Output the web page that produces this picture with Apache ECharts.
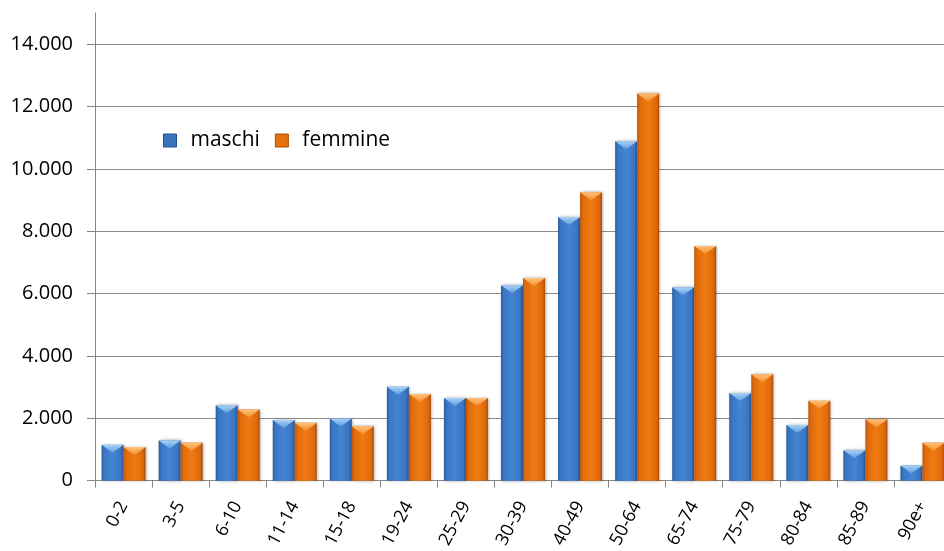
<!DOCTYPE html>
<html>
<head>
<meta charset="utf-8">
<script src="https://cdn.jsdelivr.net/npm/echarts@6/dist/echarts.min.js"></script>
<style>
  html, body { margin: 0; padding: 0; background: #ffffff; overflow: hidden; width: 944px; height: 551px; }
  /* drawing surface is a little wider than the window; the right edge of the plot is cropped */
  #chart { width: 951px; height: 551px; }
</style>
</head>
<body>
<div id="chart"></div>
<script>
// Age groups
const categories = ['0-2', '3-5', '6-10', '11-14', '15-18', '19-24', '25-29', '30-39',
  '40-49', '50-64', '65-74', '75-79', '80-84', '85-89', '90e+'];
// Residents by age group
const maschi = [1150, 1290, 2415, 1945, 1990, 3010, 2650, 6265, 8455, 10885, 6200, 2810, 1785, 975, 485];
const femmine = [1080, 1220, 2280, 1860, 1745, 2780, 2655, 6500, 9250, 12420, 7530, 3410, 2565, 1970, 1220];
// Value axis ticks
const yTicks = [0, 2000, 4000, 6000, 8000, 10000, 12000, 14000];

const fmt = v => String(v).replace(/\B(?=(\d{3})+(?!\d))/g, '.');

function barGrad(stops) {
  return new echarts.graphic.LinearGradient(0, 0, 1, 0,
    stops.map((c, i) => ({ offset: [0, 0.12, 0.5, 0.88, 1][i], color: c })));
}
function capGrad(top, bottom) {
  return new echarts.graphic.LinearGradient(0, 0, 0, 1,
    [{ offset: 0, color: top }, { offset: 1, color: bottom }]);
}

const blueFill = barGrad(['#2b5c9c', '#3a76c4', '#4385d3', '#3a74c0', '#27508a']);
const orangeFill = barGrad(['#b9570a', '#e06b0c', '#f07b12', '#de690c', '#a74d08']);
const labelFont = "'Open Sans', 'Liberation Sans', sans-serif";
const BW = 22;
const cap = 'path://M0,0 L22,0 L11,8 Z';

const chart = echarts.init(document.getElementById('chart'), null, { renderer: 'canvas' });
chart.setOption({
  animation: false,
  backgroundColor: '#ffffff',
  grid: { left: 95, right: 0, top: 13, bottom: 69.5, containLabel: false },
  legend: {
    left: 158, top: 125,
    itemWidth: 13, itemHeight: 13, itemGap: 15,
    icon: 'rect',
    textStyle: { fontFamily: labelFont, fontSize: 21, color: '#000000', padding: [0, 0, 0, 9] },
    data: [
      { name: 'maschi', itemStyle: { color: '#3a72bd', borderColor: '#24508a', borderWidth: 1 } },
      { name: 'femmine', itemStyle: { color: '#e6700f', borderColor: '#a54e0a', borderWidth: 1 } }
    ]
  },
  xAxis: {
    type: 'category',
    data: categories,
    boundaryGap: true,
    axisLine: { lineStyle: { color: '#868686', width: 1 } },
    axisTick: { show: true, length: 7, lineStyle: { color: '#868686' } },
    axisLabel: {
      rotate: 62, margin: 22, interval: 0,
      fontFamily: labelFont, fontSize: 18, color: '#000000'
    }
  },
  yAxis: {
    type: 'value',
    min: 0, max: 15000, interval: 2000,
    axisLine: { show: true, lineStyle: { color: '#868686', width: 1 } },
    axisTick: { show: true, length: 8, lineStyle: { color: '#868686' }, customValues: yTicks },
    axisLabel: {
      margin: 22, fontFamily: labelFont, fontSize: 20, color: '#000000',
      customValues: yTicks, formatter: v => fmt(v)
    },
    splitLine: {
      show: true,
      lineStyle: {
        color: ['#8c8c8c', '#8c8c8c', '#8c8c8c', '#8c8c8c', '#8c8c8c', '#8c8c8c', '#8c8c8c', '#8c8c8c', 'rgba(0,0,0,0)'],
        width: 1
      }
    }
  },
  series: [
    {
      name: 'maschi', type: 'bar', data: maschi,
      barWidth: BW, barGap: '0%',
      itemStyle: { color: blueFill, shadowBlur: 3, shadowColor: 'rgba(0,0,0,0.35)', shadowOffsetX: 1, shadowOffsetY: 0 }
    },
    {
      name: 'femmine', type: 'bar', data: femmine,
      barWidth: BW, barGap: '0%',
      itemStyle: { color: orangeFill, shadowBlur: 3, shadowColor: 'rgba(0,0,0,0.35)', shadowOffsetX: 1, shadowOffsetY: 0 }
    },
    {
      name: 'maschi-cap', type: 'pictorialBar', data: maschi,
      symbol: cap, symbolSize: [BW, 8], symbolPosition: 'end',
      barWidth: BW, barGap: '0%', z: 3, silent: true, legendHoverLink: false,
      itemStyle: { color: capGrad('#a9d2f7', '#5d9be0') }
    },
    {
      name: 'femmine-cap', type: 'pictorialBar', data: femmine,
      symbol: cap, symbolSize: [BW, 8], symbolPosition: 'end',
      barWidth: BW, barGap: '0%', z: 3, silent: true, legendHoverLink: false,
      itemStyle: { color: capGrad('#ffc27a', '#f3902f') }
    }
  ]
});
</script>
</body>
</html>
